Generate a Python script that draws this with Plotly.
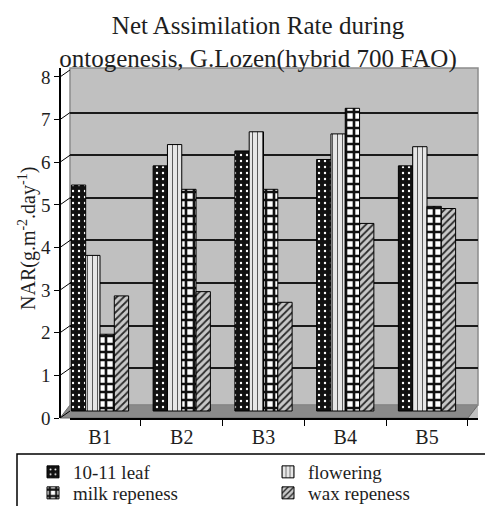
import plotly.graph_objects as go

categories = ["B1", "B2", "B3", "B4", "B5"]
leaf_10_11 = [5.3, 5.75, 6.1, 5.9, 5.75]
flowering = [3.65, 6.25, 6.55, 6.5, 6.2]
milk = [1.8, 5.2, 5.2, 7.1, 4.8]
wax = [2.7, 2.8, 2.55, 4.4, 4.75]
y_ticks = [0, 1, 2, 3, 4, 5, 6, 7, 8]
series_names = ["10-11 leaf", "flowering", "milk repeness", "wax repeness"]
y_title = "NAR(g.m<sup>-2</sup>.day<sup>-1</sup>)"

W, H = 485, 506
ML, MR, MT, MB = 58, 7, 68, 88
PW = W - ML - MR
PH = H - MT - MB
YMAX = 8.21
SHIFT = 7 * YMAX / PH  # depth offset of the back wall, in data units
FONT = "Liberation Serif"
TXT = "#1e1e1e"


def px_x(px):
    return (px - ML) / PW


def px_y(py):
    return (H - MB - py) / PH


styles = [
    dict(shape=".", bgcolor="#111111", fgcolor="#ffffff", size=6, solidity=0.12),
    dict(shape="|", bgcolor="#e6e6e6", fgcolor="#5a5a5a", size=5, solidity=0.2),
    dict(shape="+", bgcolor="#ffffff", fgcolor="#111111", size=8, solidity=0.55),
    dict(shape="/", bgcolor="#c8c8c8", fgcolor="#2a2a2a", size=5, solidity=0.35),
]
series = [leaf_10_11, flowering, milk, wax]
legend_ids = ["legend", "legend2", "legend3", "legend4"]

fig = go.Figure()
for name, vals, st, lg in zip(series_names, series, styles, legend_ids):
    fig.add_trace(go.Bar(
        x=categories, y=vals, name=name, yaxis="y2", legend=lg,
        marker=dict(color=st["bgcolor"], line=dict(color="#000000", width=1),
                    pattern=dict(shape=st["shape"], bgcolor=st["bgcolor"],
                                 fgcolor=st["fgcolor"], size=st["size"],
                                 solidity=st["solidity"], fillmode="replace")),
    ))

shapes = []
# floor
x60, x70, x468, x478 = px_x(60), px_x(70), px_x(468), px_x(478)
yf0, yf1 = px_y(418), px_y(405)
shapes.append(dict(type="path", xref="paper", yref="paper", layer="below",
                   path=f"M {x60},{yf0} L {x468},{yf0} L {x478},{yf1} L {x70},{yf1} Z",
                   fillcolor="#8a8a8a", line=dict(color="#6a6a6a", width=1)))
# wall outline
shapes.append(dict(type="rect", xref="paper", yref="paper", layer="below",
                   x0=x70, x1=1, y0=yf1, y1=1,
                   line=dict(color="#8c8c8c", width=1.5), fillcolor="rgba(0,0,0,0)"))
# depth tick lines from axis to wall
for t in y_ticks:
    shapes.append(dict(type="line", xref="paper", yref="y", x0=x60, x1=x70,
                       y0=t, y1=t + SHIFT, line=dict(color="#000000", width=1)))
# legend frame
shapes.append(dict(type="rect", xref="paper", yref="paper", layer="above",
                   x0=px_x(17), x1=px_x(492), y0=px_y(454), y1=px_y(512),
                   line=dict(color="#000000", width=1.5), fillcolor="rgba(0,0,0,0)"))

legend_common = dict(orientation="v", xref="container", yref="container",
                     xanchor="left", yanchor="top", bgcolor="rgba(0,0,0,0)",
                     borderwidth=0, traceorder="normal", tracegroupgap=0,
                     font=dict(family=FONT, size=19, color=TXT))
col_x = [33, 268]
row_top = [453, 474]

fig.update_layout(
    width=W, height=H,
    margin=dict(l=ML, r=MR, t=MT, b=MB, autoexpand=False),
    paper_bgcolor="#ffffff",
    plot_bgcolor="#c0c0c0",
    barmode="group", bargap=0.3, bargroupgap=0.0,
    font=dict(family=FONT, color=TXT, size=19),
    title=dict(text="Net Assimilation Rate during<br>ontogenesis, G.Lozen(hybrid 700 FAO)",
               x=0.532, xref="container", xanchor="center",
               y=1 - 34 / H, yref="container", yanchor="top",
               font=dict(family=FONT, size=25, color=TXT)),
    xaxis=dict(type="category", domain=[px_x(70), 1],
               range=[-30 / 81.75, -30 / 81.75 + 408 / 81.75],
               showline=True, linecolor="#000000", linewidth=1.5,
               ticks="outside", tickson="boundaries", ticklen=6, tickcolor="#000000",
               showgrid=False, tickfont=dict(family=FONT, size=20, color=TXT)),
    yaxis=dict(range=[0, YMAX], anchor="free", position=px_x(60),
               tickvals=y_ticks, showgrid=False, zeroline=False,
               showline=True, linecolor="#000000", linewidth=1.5,
               ticks="outside", ticklen=5, tickcolor="#000000",
               tickfont=dict(family=FONT, size=19, color=TXT)),
    yaxis2=dict(range=[-SHIFT, YMAX - SHIFT], overlaying="y", anchor="x",
                tickvals=[1, 2, 3, 4, 5, 6, 7], showticklabels=False, ticks="",
                showgrid=True, gridcolor="#1a1a1a", gridwidth=1.5,
                zeroline=False, showline=False),
    legend=dict(legend_common, x=col_x[0] / W, y=1 - row_top[0] / H),
    legend2=dict(legend_common, x=col_x[1] / W, y=1 - row_top[0] / H),
    legend3=dict(legend_common, x=col_x[0] / W, y=1 - row_top[1] / H),
    legend4=dict(legend_common, x=col_x[1] / W, y=1 - row_top[1] / H),
    annotations=[dict(text=y_title, xref="paper", yref="paper",
                      x=px_x(27), y=px_y(239), textangle=-90,
                      xanchor="center", yanchor="middle", showarrow=False,
                      font=dict(family=FONT, size=20, color=TXT))],
    shapes=shapes,
    showlegend=True,
)

fig.write_html("out.html")
